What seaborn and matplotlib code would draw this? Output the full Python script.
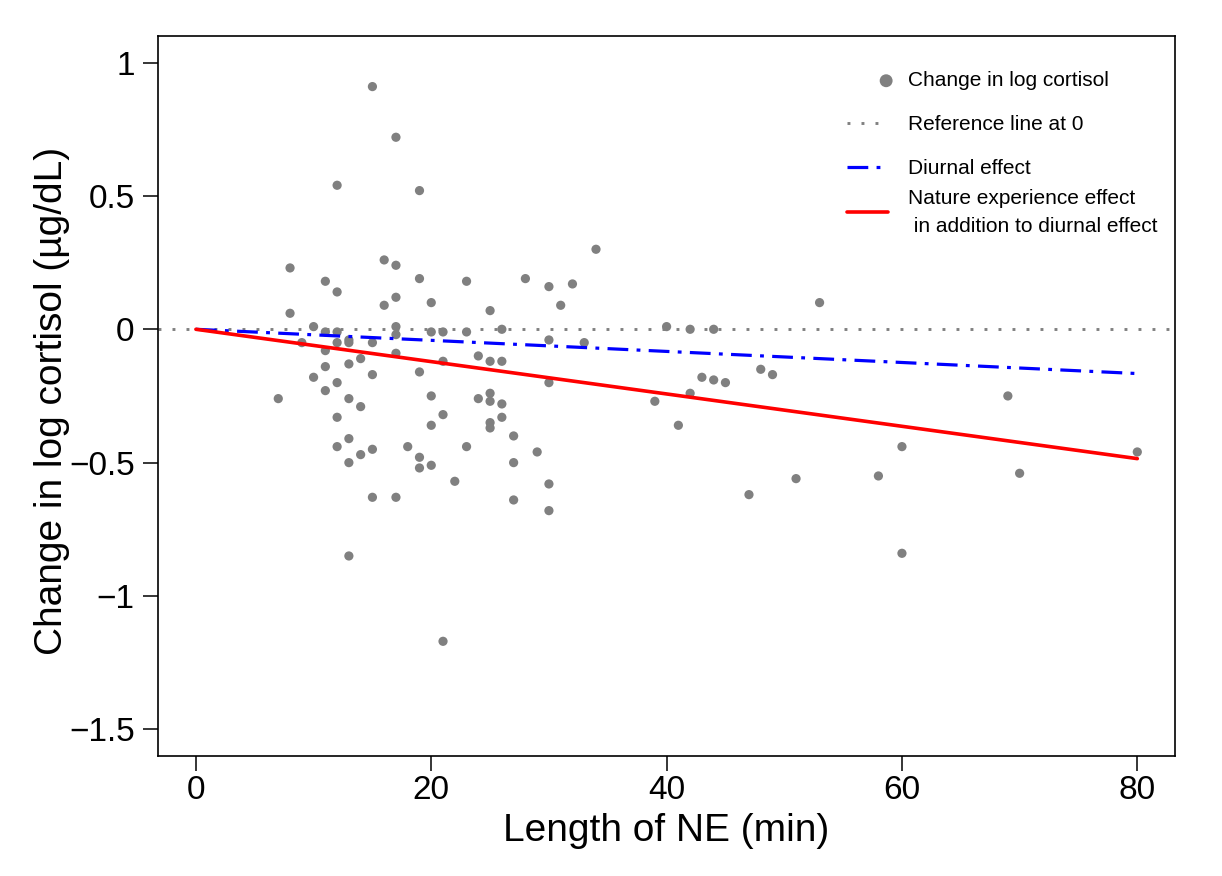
import numpy as np
import pandas as pd
import seaborn as sns
import matplotlib.pyplot as plt
from matplotlib.legend_handler import HandlerPathCollection

# length of nature experience (min) and change in log cortisol
ne_minutes = [7,
              8, 8,
              9,
              10, 10,
              11, 11, 11, 11, 11,
              12, 12, 12, 12, 12, 12, 12,
              13, 13, 13, 13, 13, 13, 13,
              14, 14, 14,
              15, 15, 15, 15, 15,
              16, 16,
              17, 17, 17, 17, 17, 17, 17,
              18,
              19, 19, 19, 19, 19,
              20, 20, 20, 20, 20,
              21, 21, 21, 21,
              22,
              23, 23, 23,
              24, 24,
              25, 25, 25, 25, 25, 25,
              26, 26, 26, 26,
              27, 27, 27,
              28,
              29,
              30, 30, 30, 30, 30,
              31, 32, 33, 34,
              39, 40, 41, 42, 42, 43, 44, 44, 45,
              47, 48, 49, 51, 53, 58, 60, 60, 69, 70, 80]
log_cortisol_change = [-0.26,
                       0.23, 0.06,
                       -0.05,
                       0.01, -0.18,
                       0.18, -0.01, -0.08, -0.14, -0.23,
                       0.54, 0.14, -0.01, -0.05, -0.20, -0.33, -0.44,
                       -0.04, -0.05, -0.13, -0.26, -0.41, -0.50, -0.85,
                       -0.11, -0.29, -0.47,
                       0.91, -0.05, -0.17, -0.45, -0.63,
                       0.26, 0.09,
                       0.72, 0.24, 0.12, 0.01, -0.02, -0.09, -0.63,
                       -0.44,
                       0.52, 0.19, -0.16, -0.48, -0.52,
                       0.10, -0.01, -0.25, -0.36, -0.51,
                       -0.01, -0.12, -0.32, -1.17,
                       -0.57,
                       0.18, -0.01, -0.44,
                       -0.10, -0.26,
                       0.07, -0.12, -0.24, -0.27, -0.35, -0.37,
                       0.00, -0.12, -0.28, -0.33,
                       -0.40, -0.50, -0.64,
                       0.19,
                       -0.46,
                       0.16, -0.04, -0.20, -0.58, -0.68,
                       0.09, 0.17, -0.05, 0.30,
                       -0.27, 0.01, -0.36, 0.00, -0.24, -0.18, 0.00, -0.19, -0.20,
                       -0.62, -0.15, -0.17, -0.56, 0.10, -0.55, -0.44, -0.84, -0.25, -0.54, -0.46]

# fitted effect lines (endpoints)
line_x = [0, 80]
diurnal_y = [0, -0.166]
nature_y = [0, -0.485]

x_ticks = [0, 20, 40, 60, 80]
y_ticks = [1, 0.5, 0, -0.5, -1, -1.5]
y_tick_labels = ["1", "0.5", "0", "\u22120.5", "\u22121", "\u22121.5"]

df = pd.DataFrame({"ne": ne_minutes, "change": log_cortisol_change})
lines_df = pd.DataFrame({"x": line_x, "diurnal": diurnal_y, "nature": nature_y})


class RightMarker(HandlerPathCollection):
    # put the single legend dot at the right end of the handle, like the original
    def get_xdata(self, legend, xdescent, ydescent, width, height, fontsize):
        x = [-xdescent + 0.95 * width]
        return x, x


sns.set_theme(style="white")
plt.rcParams['font.family'] = ['Liberation Sans', 'DejaVu Sans']

fig, ax = plt.subplots(figsize=(12.22, 8.76), dpi=100)
fig.subplots_adjust(left=0.1295, right=0.9615, bottom=0.137, top=0.959)

sns.scatterplot(data=df, x="ne", y="change", ax=ax, color="#808080", s=44,
                edgecolor="none", label="Change in log cortisol", zorder=3)
ref = ax.axhline(0, color="#808080", lw=2.1, label="Reference line at 0", zorder=2)
ref.set_dashes((1, 3.8))
sns.lineplot(data=lines_df, x="x", y="diurnal", ax=ax, color="#0000ff", lw=2.3,
             label="Diurnal effect", zorder=4)
ax.lines[-1].set_dashes((6.5, 2.6, 1.2, 2.6))
sns.lineplot(data=lines_df, x="x", y="nature", ax=ax, color="#ff0000", lw=2.6,
             label="Nature experience effect\n in addition to diurnal effect", zorder=4)

ax.set_xlim(-3.2, 83.2)
ax.set_ylim(-1.6, 1.1)
ax.set_xticks(x_ticks)
ax.set_xticklabels([str(t) for t in x_ticks])
ax.set_yticks(y_ticks)
ax.set_yticklabels(y_tick_labels)

for s in ax.spines.values():
    s.set_visible(True)
    s.set_color("black")
    s.set_linewidth(1.2)

ax.tick_params(axis="both", direction="out", length=11, width=1.1, color="black",
               labelsize=24, labelcolor="black", bottom=True, left=True)
ax.tick_params(axis="x", pad=3)
ax.tick_params(axis="y", pad=6)

ax.set_xlabel("Length of NE (min)", fontsize=28, color="black")
ax.set_ylabel("Change in log cortisol (\u00b5g/dL)", fontsize=28, color="black")
ax.xaxis.set_label_coords(0.5, -0.079)
ax.yaxis.set_label_coords(-0.087, 0.493)

handles, labels = ax.get_legend_handles_labels()
leg_kw = dict(loc="upper left", frameon=False, fontsize=15, handlelength=2.0,
              handletextpad=0.95, labelspacing=1.2, borderpad=0, borderaxespad=0,
              scatterpoints=1, markerscale=1.4)
leg1 = ax.legend(handles[:3], labels[:3], bbox_to_anchor=(0.677, 0.951),
                 handler_map={handles[0]: RightMarker()}, **leg_kw)
for t in leg1.get_texts():
    t.set_color("black")
ax.add_artist(leg1)
leg2 = ax.legend(handles[3:], labels[3:], bbox_to_anchor=(0.677, 0.788), **leg_kw)
for t in leg2.get_texts():
    t.set_color("black")
    t.set_linespacing(1.6)

fig.savefig("out.png", dpi=100)
